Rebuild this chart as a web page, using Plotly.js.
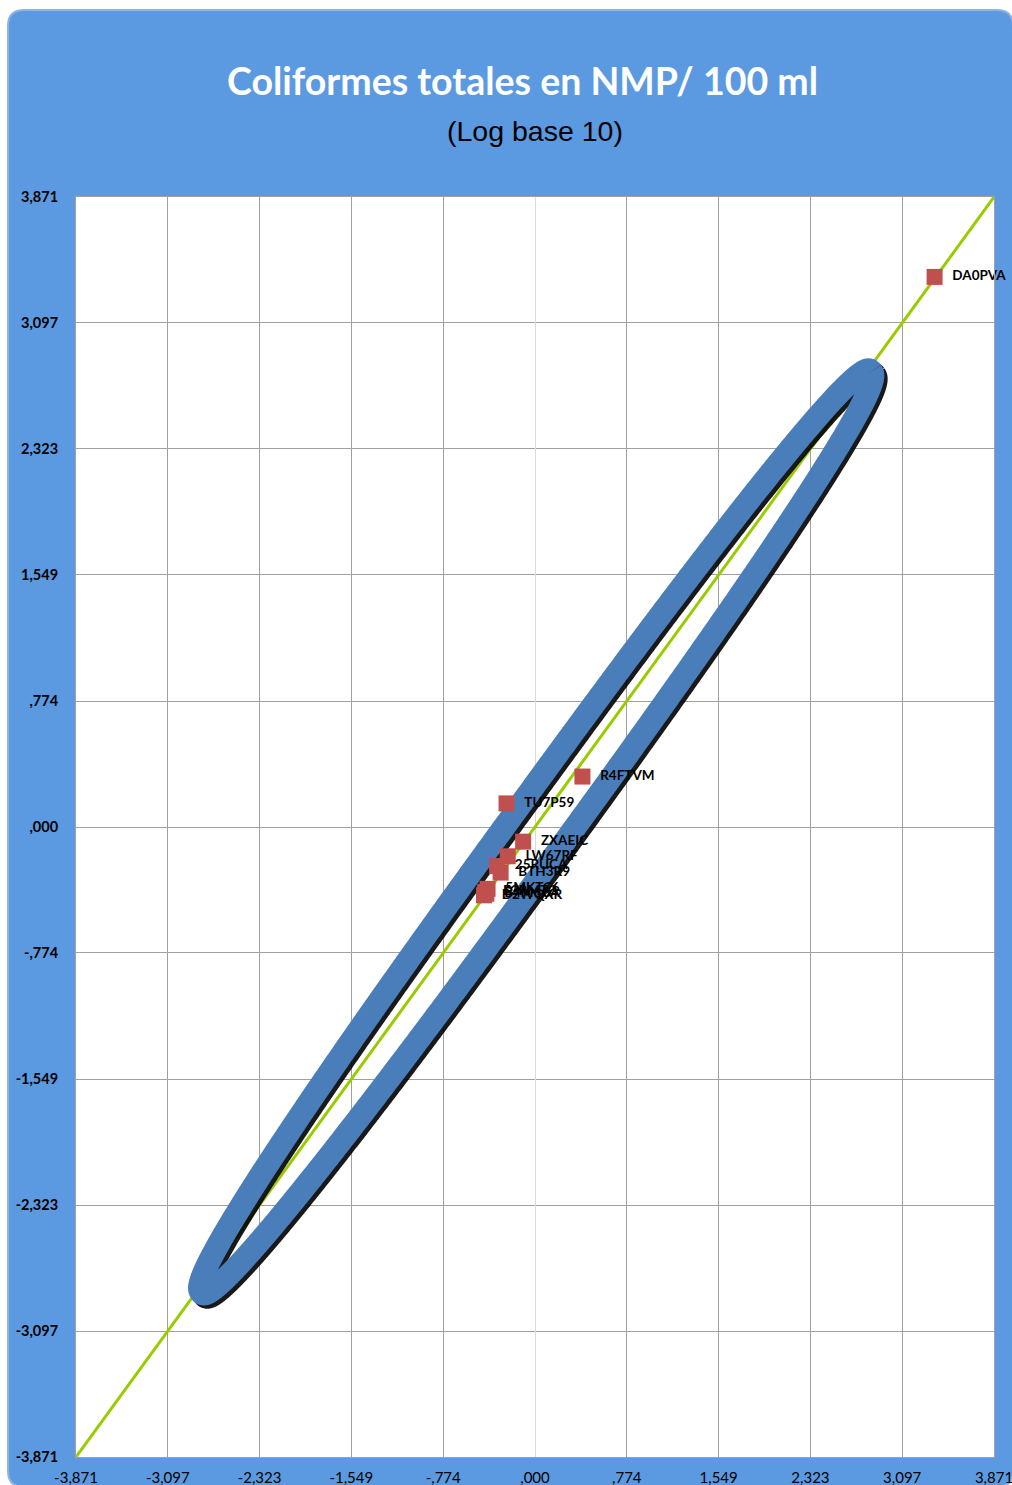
<!DOCTYPE html>
<html>
<head>
<meta charset="utf-8">
<script src="https://cdn.plot.ly/plotly-3.0.1.min.js"></script>
<style>html,body{margin:0;padding:0;background:#fff;}#chart{width:1012px;height:1485px;}</style>
</head>
<body>
<div id="chart"></div>
<script>
// ---- Data (log base 10 values) ----
const labIds  = ["DA0PVA","R4FTVM","TU7P59","ZXAEIC","LW67RF","25RUCA","BTH3R9","5MKTC6","E3RMTG","B4M6CA","D2WQXR"];
const xValues = [3.37, 0.40, -0.24, -0.10, -0.23, -0.32, -0.29, -0.40, -0.42, -0.41, -0.43];
const yValues = [3.38, 0.31, 0.145, -0.09, -0.18, -0.24, -0.28, -0.38, -0.40, -0.41, -0.42];

const axisMax = 3.871;
const tickVals = [-3.871, -3.097, -2.323, -1.549, -0.774, 0, 0.774, 1.549, 2.323, 3.097, 3.871];
const tickText = ["-3,871", "-3,097", "-2,323", "-1,549", "-,774", ",000", ",774", "1,549", "2,323", "3,097", "3,871"];

// Youden ellipse parameters (centre, semi-axes along / across the diagonal, shape exponent)
const ellCenter = [0.01, -0.03];
const ellMajor = 4.0;
const ellMinor = 0.212;
const ellExp = 2.4;

const titleText = "Coliformes totales en NMP/ 100 ml";
const subTitleText = "(Log base 10)";

// ---- Ellipse path ----
function ellipse(dx, dy) {
  const xs = [], ys = [];
  const s = Math.SQRT1_2;
  const e = 2 / ellExp;
  const n = 1440;
  for (let i = 0; i <= n; i++) {
    const t = i * 2 * Math.PI / n;
    const c = Math.cos(t), sn = Math.sin(t);
    const u = ellMajor * Math.sign(c) * Math.pow(Math.abs(c), e);
    const v = ellMinor * Math.sign(sn) * Math.pow(Math.abs(sn), e);
    xs.push(ellCenter[0] + (u - v) * s + dx);
    ys.push(ellCenter[1] + (u + v) * s + dy);
  }
  return {xs, ys};
}
const shadow = ellipse(0.028, -0.02);
const main = ellipse(0, 0);

// ---- Panel geometry (pixel -> paper) ----
const W = 1012, H = 1485;
const PL = 76, PR = 994, PT = 197, PB = 1457;
const px = v => (v - PL) / (PR - PL);
const py = v => (PB - v) / (PB - PT);
function roundRect(l, t, r, b, rad) {
  const ry = rad, rx = rad;
  return `M ${px(l + rx)} ${py(t)} L ${px(r - rx)} ${py(t)} Q ${px(r)} ${py(t)} ${px(r)} ${py(t + ry)} ` +
         `L ${px(r)} ${py(b - ry)} Q ${px(r)} ${py(b)} ${px(r - rx)} ${py(b)} ` +
         `L ${px(l + rx)} ${py(b)} Q ${px(l)} ${py(b)} ${px(l)} ${py(b - ry)} ` +
         `L ${px(l)} ${py(t + ry)} Q ${px(l)} ${py(t)} ${px(l + rx)} ${py(t)} Z`;
}

const traces = [
  {x: [-axisMax, axisMax], y: [-axisMax, axisMax], mode: "lines",
   line: {color: "#99CC00", width: 3}, hoverinfo: "skip", showlegend: false},
  {x: shadow.xs, y: shadow.ys, mode: "lines", line: {color: "rgba(0,0,0,0.9)", width: 23, simplify: false},
   hoverinfo: "skip", showlegend: false},
  {x: main.xs, y: main.ys, mode: "lines", line: {color: "#4A7EBB", width: 23, simplify: false},
   hoverinfo: "skip", showlegend: false},
  {x: xValues, y: yValues, text: labIds.map(t => "\u2002" + t), mode: "markers+text", textposition: "middle right",
   marker: {symbol: "square", size: 16, color: "#C0504D"},
   textfont: {family: "Lato, 'Open Sans', sans-serif", size: 13.5, color: "#000", weight: "bold"},
   cliponaxis: false, showlegend: false}
];

const axisCommon = {
  range: [-axisMax, axisMax], tickvals: tickVals, ticktext: tickText,
  showgrid: true, gridcolor: "#A0A0A0", gridwidth: 1,
  showline: true, linecolor: "#A0A0A0", linewidth: 1, mirror: true,
  ticks: "", fixedrange: true, automargin: false, ticklabeloverflow: "allow"
};

const layout = {
  width: W, height: H,
  margin: {l: PL, r: W - PR, t: PT, b: H - PB, pad: 0},
  paper_bgcolor: "#ffffff", plot_bgcolor: "#ffffff",
  showlegend: false,
  xaxis: Object.assign({}, axisCommon, {
    zeroline: true, zerolinecolor: "#D9D9D9", zerolinewidth: 1,
    tickfont: {family: "Lato, sans-serif", size: 15, color: "#000"},
    ticklabelstandoff: 7
  }),
  yaxis: Object.assign({}, axisCommon, {
    zeroline: true, zerolinecolor: "#A0A0A0", zerolinewidth: 1,
    tickfont: {family: "Lato, sans-serif", size: 14.5, color: "#000", weight: "bold"},
    ticklabelstandoff: 14
  }),
  shapes: [
    {type: "path", xref: "paper", yref: "paper", layer: "below",
     path: roundRect(8, 10, 1013, 1487, 16),
     fillcolor: "#5B9AE0", line: {color: "#8FB4E3", width: 2}},
    {type: "rect", xref: "paper", yref: "paper", layer: "below",
     x0: 0, x1: 1, y0: 0, y1: 1, fillcolor: "#ffffff", line: {width: 0}}
  ],
  annotations: [
    {text: "<b>" + titleText + "</b>", xref: "paper", yref: "paper",
     x: px(522), y: py(80), xanchor: "center", yanchor: "middle", showarrow: false,
     font: {family: "Lato, 'Open Sans', sans-serif", size: 37.5, color: "#ffffff"}},
    {text: subTitleText, xref: "paper", yref: "paper",
     x: px(535), y: py(131), xanchor: "center", yanchor: "middle", showarrow: false,
     font: {family: "'Liberation Sans', Arial, sans-serif", size: 28.5, color: "#000000"}}
  ]
};

Plotly.newPlot("chart", traces, layout, {displayModeBar: false, staticPlot: true});
</script>
</body>
</html>
